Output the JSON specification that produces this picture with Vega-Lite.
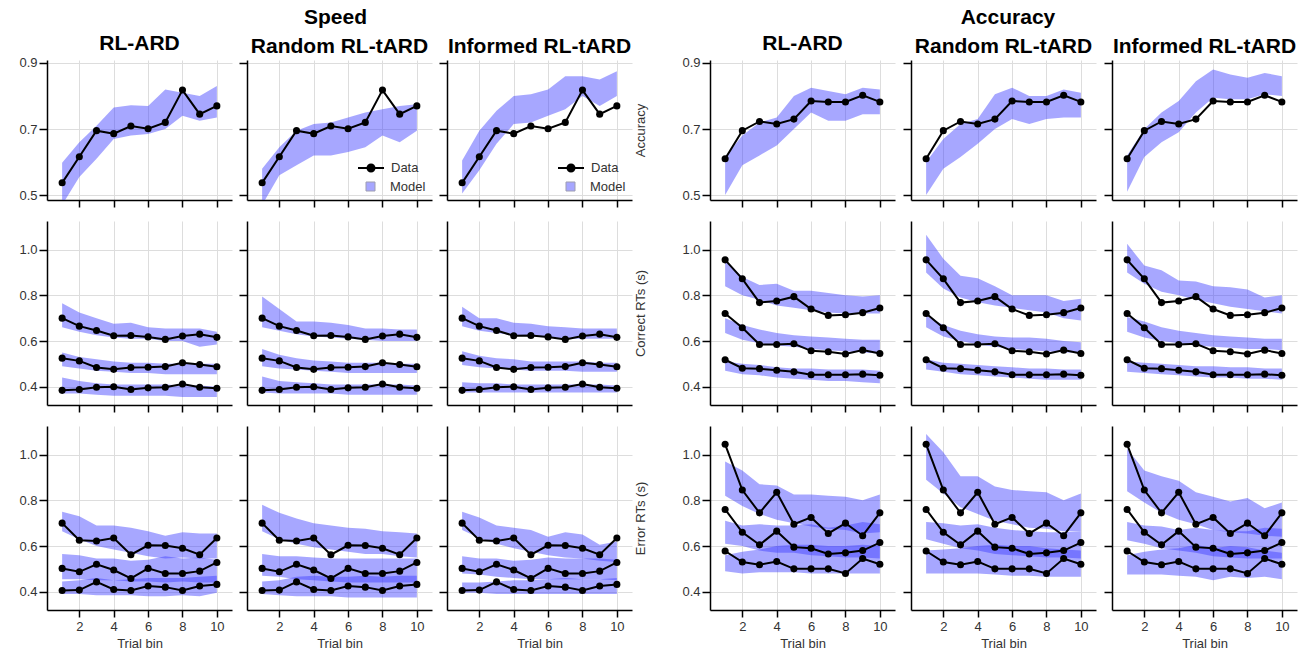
{
"$schema":"https://vega.github.io/schema/vega-lite/v6.json",
"padding":{"left":18,"top":6,"right":5,"bottom":2},
"config":{"font":"Liberation Sans","view":{"stroke":null},
"axis":{"domainColor":"black","domainWidth":1.5,"tickColor":"black","tickWidth":1.5,"tickSize":8,"gridColor":"#dddddd","gridWidth":1,"labelFontSize":13,"labelColor":"#333333","labelOverlap":false,"titleFontSize":13,"titleFontWeight":"normal","titleColor":"#333333","labelPadding":2},
"legend":{"layout":{"bottom-right":{"direction":"vertical","margin":-3}}},
"title":{"fontSize":21,"fontWeight":"bold","color":"black","offset":3}},
"datasets":{
"obs":[
{"c":"S","v":"acc","q":1,"b":1,"y":0.537},{"c":"S","v":"acc","q":1,"b":2,"y":0.616},{"c":"S","v":"acc","q":1,"b":3,"y":0.695},{"c":"S","v":"acc","q":1,"b":4,"y":0.686},{"c":"S","v":"acc","q":1,"b":5,"y":0.709},{"c":"S","v":"acc","q":1,"b":6,"y":0.701},{"c":"S","v":"acc","q":1,"b":7,"y":0.720},{"c":"S","v":"acc","q":1,"b":8,"y":0.818},{"c":"S","v":"acc","q":1,"b":9,"y":0.745},{"c":"S","v":"acc","q":1,"b":10,"y":0.770},
{"c":"S","v":"crt","q":1,"b":1,"y":0.384},{"c":"S","v":"crt","q":1,"b":2,"y":0.388},{"c":"S","v":"crt","q":1,"b":3,"y":0.398},{"c":"S","v":"crt","q":1,"b":4,"y":0.400},{"c":"S","v":"crt","q":1,"b":5,"y":0.388},{"c":"S","v":"crt","q":1,"b":6,"y":0.395},{"c":"S","v":"crt","q":1,"b":7,"y":0.398},{"c":"S","v":"crt","q":1,"b":8,"y":0.412},{"c":"S","v":"crt","q":1,"b":9,"y":0.398},{"c":"S","v":"crt","q":1,"b":10,"y":0.393},
{"c":"S","v":"crt","q":2,"b":1,"y":0.525},{"c":"S","v":"crt","q":2,"b":2,"y":0.513},{"c":"S","v":"crt","q":2,"b":3,"y":0.484},{"c":"S","v":"crt","q":2,"b":4,"y":0.476},{"c":"S","v":"crt","q":2,"b":5,"y":0.484},{"c":"S","v":"crt","q":2,"b":6,"y":0.485},{"c":"S","v":"crt","q":2,"b":7,"y":0.488},{"c":"S","v":"crt","q":2,"b":8,"y":0.505},{"c":"S","v":"crt","q":2,"b":9,"y":0.497},{"c":"S","v":"crt","q":2,"b":10,"y":0.487},
{"c":"S","v":"crt","q":3,"b":1,"y":0.700},{"c":"S","v":"crt","q":3,"b":2,"y":0.665},{"c":"S","v":"crt","q":3,"b":3,"y":0.646},{"c":"S","v":"crt","q":3,"b":4,"y":0.623},{"c":"S","v":"crt","q":3,"b":5,"y":0.624},{"c":"S","v":"crt","q":3,"b":6,"y":0.618},{"c":"S","v":"crt","q":3,"b":7,"y":0.607},{"c":"S","v":"crt","q":3,"b":8,"y":0.622},{"c":"S","v":"crt","q":3,"b":9,"y":0.630},{"c":"S","v":"crt","q":3,"b":10,"y":0.616},
{"c":"S","v":"ert","q":1,"b":1,"y":0.405},{"c":"S","v":"ert","q":1,"b":2,"y":0.407},{"c":"S","v":"ert","q":1,"b":3,"y":0.443},{"c":"S","v":"ert","q":1,"b":4,"y":0.410},{"c":"S","v":"ert","q":1,"b":5,"y":0.405},{"c":"S","v":"ert","q":1,"b":6,"y":0.425},{"c":"S","v":"ert","q":1,"b":7,"y":0.420},{"c":"S","v":"ert","q":1,"b":8,"y":0.405},{"c":"S","v":"ert","q":1,"b":9,"y":0.425},{"c":"S","v":"ert","q":1,"b":10,"y":0.432},
{"c":"S","v":"ert","q":2,"b":1,"y":0.502},{"c":"S","v":"ert","q":2,"b":2,"y":0.487},{"c":"S","v":"ert","q":2,"b":3,"y":0.520},{"c":"S","v":"ert","q":2,"b":4,"y":0.495},{"c":"S","v":"ert","q":2,"b":5,"y":0.458},{"c":"S","v":"ert","q":2,"b":6,"y":0.502},{"c":"S","v":"ert","q":2,"b":7,"y":0.480},{"c":"S","v":"ert","q":2,"b":8,"y":0.480},{"c":"S","v":"ert","q":2,"b":9,"y":0.490},{"c":"S","v":"ert","q":2,"b":10,"y":0.528},
{"c":"S","v":"ert","q":3,"b":1,"y":0.700},{"c":"S","v":"ert","q":3,"b":2,"y":0.625},{"c":"S","v":"ert","q":3,"b":3,"y":0.622},{"c":"S","v":"ert","q":3,"b":4,"y":0.635},{"c":"S","v":"ert","q":3,"b":5,"y":0.562},{"c":"S","v":"ert","q":3,"b":6,"y":0.603},{"c":"S","v":"ert","q":3,"b":7,"y":0.602},{"c":"S","v":"ert","q":3,"b":8,"y":0.590},{"c":"S","v":"ert","q":3,"b":9,"y":0.562},{"c":"S","v":"ert","q":3,"b":10,"y":0.635},
{"c":"A","v":"acc","q":1,"b":1,"y":0.610},{"c":"A","v":"acc","q":1,"b":2,"y":0.695},{"c":"A","v":"acc","q":1,"b":3,"y":0.723},{"c":"A","v":"acc","q":1,"b":4,"y":0.715},{"c":"A","v":"acc","q":1,"b":5,"y":0.730},{"c":"A","v":"acc","q":1,"b":6,"y":0.785},{"c":"A","v":"acc","q":1,"b":7,"y":0.782},{"c":"A","v":"acc","q":1,"b":8,"y":0.782},{"c":"A","v":"acc","q":1,"b":9,"y":0.802},{"c":"A","v":"acc","q":1,"b":10,"y":0.782},
{"c":"A","v":"crt","q":1,"b":1,"y":0.518},{"c":"A","v":"crt","q":1,"b":2,"y":0.481},{"c":"A","v":"crt","q":1,"b":3,"y":0.479},{"c":"A","v":"crt","q":1,"b":4,"y":0.472},{"c":"A","v":"crt","q":1,"b":5,"y":0.465},{"c":"A","v":"crt","q":1,"b":6,"y":0.452},{"c":"A","v":"crt","q":1,"b":7,"y":0.452},{"c":"A","v":"crt","q":1,"b":8,"y":0.452},{"c":"A","v":"crt","q":1,"b":9,"y":0.455},{"c":"A","v":"crt","q":1,"b":10,"y":0.450},
{"c":"A","v":"crt","q":2,"b":1,"y":0.720},{"c":"A","v":"crt","q":2,"b":2,"y":0.658},{"c":"A","v":"crt","q":2,"b":3,"y":0.585},{"c":"A","v":"crt","q":2,"b":4,"y":0.585},{"c":"A","v":"crt","q":2,"b":5,"y":0.588},{"c":"A","v":"crt","q":2,"b":6,"y":0.557},{"c":"A","v":"crt","q":2,"b":7,"y":0.553},{"c":"A","v":"crt","q":2,"b":8,"y":0.543},{"c":"A","v":"crt","q":2,"b":9,"y":0.560},{"c":"A","v":"crt","q":2,"b":10,"y":0.545},
{"c":"A","v":"crt","q":3,"b":1,"y":0.955},{"c":"A","v":"crt","q":3,"b":2,"y":0.872},{"c":"A","v":"crt","q":3,"b":3,"y":0.768},{"c":"A","v":"crt","q":3,"b":4,"y":0.775},{"c":"A","v":"crt","q":3,"b":5,"y":0.794},{"c":"A","v":"crt","q":3,"b":6,"y":0.740},{"c":"A","v":"crt","q":3,"b":7,"y":0.712},{"c":"A","v":"crt","q":3,"b":8,"y":0.715},{"c":"A","v":"crt","q":3,"b":9,"y":0.724},{"c":"A","v":"crt","q":3,"b":10,"y":0.744},
{"c":"A","v":"ert","q":1,"b":1,"y":0.578},{"c":"A","v":"ert","q":1,"b":2,"y":0.530},{"c":"A","v":"ert","q":1,"b":3,"y":0.518},{"c":"A","v":"ert","q":1,"b":4,"y":0.532},{"c":"A","v":"ert","q":1,"b":5,"y":0.500},{"c":"A","v":"ert","q":1,"b":6,"y":0.500},{"c":"A","v":"ert","q":1,"b":7,"y":0.500},{"c":"A","v":"ert","q":1,"b":8,"y":0.480},{"c":"A","v":"ert","q":1,"b":9,"y":0.545},{"c":"A","v":"ert","q":1,"b":10,"y":0.520},
{"c":"A","v":"ert","q":2,"b":1,"y":0.760},{"c":"A","v":"ert","q":2,"b":2,"y":0.660},{"c":"A","v":"ert","q":2,"b":3,"y":0.605},{"c":"A","v":"ert","q":2,"b":4,"y":0.665},{"c":"A","v":"ert","q":2,"b":5,"y":0.595},{"c":"A","v":"ert","q":2,"b":6,"y":0.590},{"c":"A","v":"ert","q":2,"b":7,"y":0.565},{"c":"A","v":"ert","q":2,"b":8,"y":0.570},{"c":"A","v":"ert","q":2,"b":9,"y":0.580},{"c":"A","v":"ert","q":2,"b":10,"y":0.615},
{"c":"A","v":"ert","q":3,"b":1,"y":1.045},{"c":"A","v":"ert","q":3,"b":2,"y":0.845},{"c":"A","v":"ert","q":3,"b":3,"y":0.745},{"c":"A","v":"ert","q":3,"b":4,"y":0.835},{"c":"A","v":"ert","q":3,"b":5,"y":0.695},{"c":"A","v":"ert","q":3,"b":6,"y":0.725},{"c":"A","v":"ert","q":3,"b":7,"y":0.655},{"c":"A","v":"ert","q":3,"b":8,"y":0.700},{"c":"A","v":"ert","q":3,"b":9,"y":0.645},{"c":"A","v":"ert","q":3,"b":10,"y":0.745}
],
"mod":[
{"c":"S","m":"A","v":"acc","q":1,"b":1,"l":0.47,"h":0.598},{"c":"S","m":"A","v":"acc","q":1,"b":2,"l":0.555,"h":0.66},{"c":"S","m":"A","v":"acc","q":1,"b":3,"l":0.61,"h":0.71},{"c":"S","m":"A","v":"acc","q":1,"b":4,"l":0.67,"h":0.765},{"c":"S","m":"A","v":"acc","q":1,"b":5,"l":0.68,"h":0.772},{"c":"S","m":"A","v":"acc","q":1,"b":6,"l":0.685,"h":0.77},{"c":"S","m":"A","v":"acc","q":1,"b":7,"l":0.70,"h":0.82},{"c":"S","m":"A","v":"acc","q":1,"b":8,"l":0.74,"h":0.81},{"c":"S","m":"A","v":"acc","q":1,"b":9,"l":0.725,"h":0.80},{"c":"S","m":"A","v":"acc","q":1,"b":10,"l":0.735,"h":0.83},
{"c":"S","m":"R","v":"acc","q":1,"b":1,"l":0.47,"h":0.58},{"c":"S","m":"R","v":"acc","q":1,"b":2,"l":0.56,"h":0.645},{"c":"S","m":"R","v":"acc","q":1,"b":3,"l":0.59,"h":0.695},{"c":"S","m":"R","v":"acc","q":1,"b":4,"l":0.62,"h":0.715},{"c":"S","m":"R","v":"acc","q":1,"b":5,"l":0.62,"h":0.72},{"c":"S","m":"R","v":"acc","q":1,"b":6,"l":0.63,"h":0.735},{"c":"S","m":"R","v":"acc","q":1,"b":7,"l":0.645,"h":0.75},{"c":"S","m":"R","v":"acc","q":1,"b":8,"l":0.68,"h":0.76},{"c":"S","m":"R","v":"acc","q":1,"b":9,"l":0.66,"h":0.77},{"c":"S","m":"R","v":"acc","q":1,"b":10,"l":0.695,"h":0.775},
{"c":"S","m":"I","v":"acc","q":1,"b":1,"l":0.505,"h":0.605},{"c":"S","m":"I","v":"acc","q":1,"b":2,"l":0.575,"h":0.695},{"c":"S","m":"I","v":"acc","q":1,"b":3,"l":0.655,"h":0.755},{"c":"S","m":"I","v":"acc","q":1,"b":4,"l":0.715,"h":0.80},{"c":"S","m":"I","v":"acc","q":1,"b":5,"l":0.72,"h":0.805},{"c":"S","m":"I","v":"acc","q":1,"b":6,"l":0.74,"h":0.82},{"c":"S","m":"I","v":"acc","q":1,"b":7,"l":0.76,"h":0.86},{"c":"S","m":"I","v":"acc","q":1,"b":8,"l":0.80,"h":0.86},{"c":"S","m":"I","v":"acc","q":1,"b":9,"l":0.77,"h":0.85},{"c":"S","m":"I","v":"acc","q":1,"b":10,"l":0.80,"h":0.875},
{"c":"S","m":"A","v":"crt","q":3,"b":1,"l":0.66,"h":0.765},{"c":"S","m":"A","v":"crt","q":3,"b":2,"l":0.64,"h":0.725},{"c":"S","m":"A","v":"crt","q":3,"b":3,"l":0.625,"h":0.70},{"c":"S","m":"A","v":"crt","q":3,"b":4,"l":0.615,"h":0.675},{"c":"S","m":"A","v":"crt","q":3,"b":5,"l":0.61,"h":0.68},{"c":"S","m":"A","v":"crt","q":3,"b":6,"l":0.61,"h":0.66},{"c":"S","m":"A","v":"crt","q":3,"b":7,"l":0.60,"h":0.655},{"c":"S","m":"A","v":"crt","q":3,"b":8,"l":0.60,"h":0.655},{"c":"S","m":"A","v":"crt","q":3,"b":9,"l":0.575,"h":0.655},{"c":"S","m":"A","v":"crt","q":3,"b":10,"l":0.585,"h":0.64},
{"c":"S","m":"A","v":"crt","q":2,"b":1,"l":0.49,"h":0.55},{"c":"S","m":"A","v":"crt","q":2,"b":2,"l":0.48,"h":0.53},{"c":"S","m":"A","v":"crt","q":2,"b":3,"l":0.47,"h":0.52},{"c":"S","m":"A","v":"crt","q":2,"b":4,"l":0.465,"h":0.51},{"c":"S","m":"A","v":"crt","q":2,"b":5,"l":0.46,"h":0.505},{"c":"S","m":"A","v":"crt","q":2,"b":6,"l":0.46,"h":0.505},{"c":"S","m":"A","v":"crt","q":2,"b":7,"l":0.455,"h":0.50},{"c":"S","m":"A","v":"crt","q":2,"b":8,"l":0.455,"h":0.50},{"c":"S","m":"A","v":"crt","q":2,"b":9,"l":0.455,"h":0.50},{"c":"S","m":"A","v":"crt","q":2,"b":10,"l":0.455,"h":0.50},
{"c":"S","m":"A","v":"crt","q":1,"b":1,"l":0.37,"h":0.44},{"c":"S","m":"A","v":"crt","q":1,"b":2,"l":0.37,"h":0.425},{"c":"S","m":"A","v":"crt","q":1,"b":3,"l":0.365,"h":0.415},{"c":"S","m":"A","v":"crt","q":1,"b":4,"l":0.36,"h":0.41},{"c":"S","m":"A","v":"crt","q":1,"b":5,"l":0.36,"h":0.41},{"c":"S","m":"A","v":"crt","q":1,"b":6,"l":0.36,"h":0.41},{"c":"S","m":"A","v":"crt","q":1,"b":7,"l":0.36,"h":0.41},{"c":"S","m":"A","v":"crt","q":1,"b":8,"l":0.355,"h":0.405},{"c":"S","m":"A","v":"crt","q":1,"b":9,"l":0.355,"h":0.405},{"c":"S","m":"A","v":"crt","q":1,"b":10,"l":0.355,"h":0.40},
{"c":"S","m":"R","v":"crt","q":3,"b":1,"l":0.66,"h":0.795},{"c":"S","m":"R","v":"crt","q":3,"b":2,"l":0.645,"h":0.74},{"c":"S","m":"R","v":"crt","q":3,"b":3,"l":0.63,"h":0.685},{"c":"S","m":"R","v":"crt","q":3,"b":4,"l":0.62,"h":0.685},{"c":"S","m":"R","v":"crt","q":3,"b":5,"l":0.615,"h":0.68},{"c":"S","m":"R","v":"crt","q":3,"b":6,"l":0.61,"h":0.67},{"c":"S","m":"R","v":"crt","q":3,"b":7,"l":0.605,"h":0.655},{"c":"S","m":"R","v":"crt","q":3,"b":8,"l":0.60,"h":0.655},{"c":"S","m":"R","v":"crt","q":3,"b":9,"l":0.60,"h":0.65},{"c":"S","m":"R","v":"crt","q":3,"b":10,"l":0.60,"h":0.65},
{"c":"S","m":"R","v":"crt","q":2,"b":1,"l":0.49,"h":0.565},{"c":"S","m":"R","v":"crt","q":2,"b":2,"l":0.48,"h":0.54},{"c":"S","m":"R","v":"crt","q":2,"b":3,"l":0.475,"h":0.525},{"c":"S","m":"R","v":"crt","q":2,"b":4,"l":0.47,"h":0.515},{"c":"S","m":"R","v":"crt","q":2,"b":5,"l":0.465,"h":0.51},{"c":"S","m":"R","v":"crt","q":2,"b":6,"l":0.46,"h":0.505},{"c":"S","m":"R","v":"crt","q":2,"b":7,"l":0.46,"h":0.505},{"c":"S","m":"R","v":"crt","q":2,"b":8,"l":0.46,"h":0.505},{"c":"S","m":"R","v":"crt","q":2,"b":9,"l":0.46,"h":0.50},{"c":"S","m":"R","v":"crt","q":2,"b":10,"l":0.46,"h":0.50},
{"c":"S","m":"R","v":"crt","q":1,"b":1,"l":0.375,"h":0.445},{"c":"S","m":"R","v":"crt","q":1,"b":2,"l":0.37,"h":0.425},{"c":"S","m":"R","v":"crt","q":1,"b":3,"l":0.37,"h":0.42},{"c":"S","m":"R","v":"crt","q":1,"b":4,"l":0.37,"h":0.415},{"c":"S","m":"R","v":"crt","q":1,"b":5,"l":0.37,"h":0.41},{"c":"S","m":"R","v":"crt","q":1,"b":6,"l":0.365,"h":0.41},{"c":"S","m":"R","v":"crt","q":1,"b":7,"l":0.365,"h":0.41},{"c":"S","m":"R","v":"crt","q":1,"b":8,"l":0.365,"h":0.41},{"c":"S","m":"R","v":"crt","q":1,"b":9,"l":0.365,"h":0.41},{"c":"S","m":"R","v":"crt","q":1,"b":10,"l":0.365,"h":0.405},
{"c":"S","m":"I","v":"crt","q":3,"b":1,"l":0.665,"h":0.75},{"c":"S","m":"I","v":"crt","q":3,"b":2,"l":0.645,"h":0.70},{"c":"S","m":"I","v":"crt","q":3,"b":3,"l":0.635,"h":0.70},{"c":"S","m":"I","v":"crt","q":3,"b":4,"l":0.625,"h":0.68},{"c":"S","m":"I","v":"crt","q":3,"b":5,"l":0.62,"h":0.675},{"c":"S","m":"I","v":"crt","q":3,"b":6,"l":0.615,"h":0.665},{"c":"S","m":"I","v":"crt","q":3,"b":7,"l":0.61,"h":0.66},{"c":"S","m":"I","v":"crt","q":3,"b":8,"l":0.61,"h":0.655},{"c":"S","m":"I","v":"crt","q":3,"b":9,"l":0.61,"h":0.655},{"c":"S","m":"I","v":"crt","q":3,"b":10,"l":0.61,"h":0.655},
{"c":"S","m":"I","v":"crt","q":2,"b":1,"l":0.495,"h":0.555},{"c":"S","m":"I","v":"crt","q":2,"b":2,"l":0.485,"h":0.535},{"c":"S","m":"I","v":"crt","q":2,"b":3,"l":0.48,"h":0.525},{"c":"S","m":"I","v":"crt","q":2,"b":4,"l":0.475,"h":0.52},{"c":"S","m":"I","v":"crt","q":2,"b":5,"l":0.47,"h":0.51},{"c":"S","m":"I","v":"crt","q":2,"b":6,"l":0.47,"h":0.51},{"c":"S","m":"I","v":"crt","q":2,"b":7,"l":0.47,"h":0.51},{"c":"S","m":"I","v":"crt","q":2,"b":8,"l":0.465,"h":0.51},{"c":"S","m":"I","v":"crt","q":2,"b":9,"l":0.465,"h":0.505},{"c":"S","m":"I","v":"crt","q":2,"b":10,"l":0.465,"h":0.505},
{"c":"S","m":"I","v":"crt","q":1,"b":1,"l":0.375,"h":0.42},{"c":"S","m":"I","v":"crt","q":1,"b":2,"l":0.375,"h":0.415},{"c":"S","m":"I","v":"crt","q":1,"b":3,"l":0.375,"h":0.415},{"c":"S","m":"I","v":"crt","q":1,"b":4,"l":0.375,"h":0.41},{"c":"S","m":"I","v":"crt","q":1,"b":5,"l":0.375,"h":0.41},{"c":"S","m":"I","v":"crt","q":1,"b":6,"l":0.375,"h":0.41},{"c":"S","m":"I","v":"crt","q":1,"b":7,"l":0.375,"h":0.41},{"c":"S","m":"I","v":"crt","q":1,"b":8,"l":0.375,"h":0.41},{"c":"S","m":"I","v":"crt","q":1,"b":9,"l":0.375,"h":0.41},{"c":"S","m":"I","v":"crt","q":1,"b":10,"l":0.375,"h":0.405},
{"c":"S","m":"A","v":"ert","q":3,"b":1,"l":0.665,"h":0.75},{"c":"S","m":"A","v":"ert","q":3,"b":2,"l":0.63,"h":0.73},{"c":"S","m":"A","v":"ert","q":3,"b":3,"l":0.60,"h":0.69},{"c":"S","m":"A","v":"ert","q":3,"b":4,"l":0.585,"h":0.69},{"c":"S","m":"A","v":"ert","q":3,"b":5,"l":0.57,"h":0.68},{"c":"S","m":"A","v":"ert","q":3,"b":6,"l":0.555,"h":0.665},{"c":"S","m":"A","v":"ert","q":3,"b":7,"l":0.545,"h":0.645},{"c":"S","m":"A","v":"ert","q":3,"b":8,"l":0.55,"h":0.66},{"c":"S","m":"A","v":"ert","q":3,"b":9,"l":0.545,"h":0.655},{"c":"S","m":"A","v":"ert","q":3,"b":10,"l":0.545,"h":0.655},
{"c":"S","m":"A","v":"ert","q":2,"b":1,"l":0.455,"h":0.565},{"c":"S","m":"A","v":"ert","q":2,"b":2,"l":0.455,"h":0.56},{"c":"S","m":"A","v":"ert","q":2,"b":3,"l":0.45,"h":0.545},{"c":"S","m":"A","v":"ert","q":2,"b":4,"l":0.45,"h":0.545},{"c":"S","m":"A","v":"ert","q":2,"b":5,"l":0.445,"h":0.535},{"c":"S","m":"A","v":"ert","q":2,"b":6,"l":0.445,"h":0.54},{"c":"S","m":"A","v":"ert","q":2,"b":7,"l":0.44,"h":0.555},{"c":"S","m":"A","v":"ert","q":2,"b":8,"l":0.445,"h":0.545},{"c":"S","m":"A","v":"ert","q":2,"b":9,"l":0.44,"h":0.55},{"c":"S","m":"A","v":"ert","q":2,"b":10,"l":0.44,"h":0.54},
{"c":"S","m":"A","v":"ert","q":1,"b":1,"l":0.39,"h":0.445},{"c":"S","m":"A","v":"ert","q":1,"b":2,"l":0.39,"h":0.45},{"c":"S","m":"A","v":"ert","q":1,"b":3,"l":0.385,"h":0.46},{"c":"S","m":"A","v":"ert","q":1,"b":4,"l":0.385,"h":0.45},{"c":"S","m":"A","v":"ert","q":1,"b":5,"l":0.385,"h":0.455},{"c":"S","m":"A","v":"ert","q":1,"b":6,"l":0.38,"h":0.46},{"c":"S","m":"A","v":"ert","q":1,"b":7,"l":0.38,"h":0.46},{"c":"S","m":"A","v":"ert","q":1,"b":8,"l":0.385,"h":0.46},{"c":"S","m":"A","v":"ert","q":1,"b":9,"l":0.38,"h":0.465},{"c":"S","m":"A","v":"ert","q":1,"b":10,"l":0.395,"h":0.47},
{"c":"S","m":"R","v":"ert","q":3,"b":1,"l":0.665,"h":0.78},{"c":"S","m":"R","v":"ert","q":3,"b":2,"l":0.63,"h":0.745},{"c":"S","m":"R","v":"ert","q":3,"b":3,"l":0.61,"h":0.72},{"c":"S","m":"R","v":"ert","q":3,"b":4,"l":0.595,"h":0.70},{"c":"S","m":"R","v":"ert","q":3,"b":5,"l":0.585,"h":0.69},{"c":"S","m":"R","v":"ert","q":3,"b":6,"l":0.575,"h":0.68},{"c":"S","m":"R","v":"ert","q":3,"b":7,"l":0.565,"h":0.675},{"c":"S","m":"R","v":"ert","q":3,"b":8,"l":0.565,"h":0.665},{"c":"S","m":"R","v":"ert","q":3,"b":9,"l":0.555,"h":0.66},{"c":"S","m":"R","v":"ert","q":3,"b":10,"l":0.55,"h":0.655},
{"c":"S","m":"R","v":"ert","q":2,"b":1,"l":0.47,"h":0.565},{"c":"S","m":"R","v":"ert","q":2,"b":2,"l":0.465,"h":0.555},{"c":"S","m":"R","v":"ert","q":2,"b":3,"l":0.455,"h":0.555},{"c":"S","m":"R","v":"ert","q":2,"b":4,"l":0.45,"h":0.55},{"c":"S","m":"R","v":"ert","q":2,"b":5,"l":0.445,"h":0.545},{"c":"S","m":"R","v":"ert","q":2,"b":6,"l":0.44,"h":0.545},{"c":"S","m":"R","v":"ert","q":2,"b":7,"l":0.44,"h":0.545},{"c":"S","m":"R","v":"ert","q":2,"b":8,"l":0.44,"h":0.545},{"c":"S","m":"R","v":"ert","q":2,"b":9,"l":0.44,"h":0.545},{"c":"S","m":"R","v":"ert","q":2,"b":10,"l":0.44,"h":0.545},
{"c":"S","m":"R","v":"ert","q":1,"b":1,"l":0.39,"h":0.445},{"c":"S","m":"R","v":"ert","q":1,"b":2,"l":0.385,"h":0.45},{"c":"S","m":"R","v":"ert","q":1,"b":3,"l":0.38,"h":0.465},{"c":"S","m":"R","v":"ert","q":1,"b":4,"l":0.38,"h":0.47},{"c":"S","m":"R","v":"ert","q":1,"b":5,"l":0.38,"h":0.465},{"c":"S","m":"R","v":"ert","q":1,"b":6,"l":0.375,"h":0.465},{"c":"S","m":"R","v":"ert","q":1,"b":7,"l":0.375,"h":0.47},{"c":"S","m":"R","v":"ert","q":1,"b":8,"l":0.375,"h":0.465},{"c":"S","m":"R","v":"ert","q":1,"b":9,"l":0.375,"h":0.47},{"c":"S","m":"R","v":"ert","q":1,"b":10,"l":0.375,"h":0.47},
{"c":"S","m":"I","v":"ert","q":3,"b":1,"l":0.67,"h":0.75},{"c":"S","m":"I","v":"ert","q":3,"b":2,"l":0.635,"h":0.725},{"c":"S","m":"I","v":"ert","q":3,"b":3,"l":0.61,"h":0.69},{"c":"S","m":"I","v":"ert","q":3,"b":4,"l":0.59,"h":0.68},{"c":"S","m":"I","v":"ert","q":3,"b":5,"l":0.575,"h":0.67},{"c":"S","m":"I","v":"ert","q":3,"b":6,"l":0.56,"h":0.64},{"c":"S","m":"I","v":"ert","q":3,"b":7,"l":0.55,"h":0.66},{"c":"S","m":"I","v":"ert","q":3,"b":8,"l":0.545,"h":0.65},{"c":"S","m":"I","v":"ert","q":3,"b":9,"l":0.535,"h":0.605},{"c":"S","m":"I","v":"ert","q":3,"b":10,"l":0.53,"h":0.62},
{"c":"S","m":"I","v":"ert","q":2,"b":1,"l":0.48,"h":0.555},{"c":"S","m":"I","v":"ert","q":2,"b":2,"l":0.475,"h":0.545},{"c":"S","m":"I","v":"ert","q":2,"b":3,"l":0.465,"h":0.545},{"c":"S","m":"I","v":"ert","q":2,"b":4,"l":0.46,"h":0.535},{"c":"S","m":"I","v":"ert","q":2,"b":5,"l":0.455,"h":0.54},{"c":"S","m":"I","v":"ert","q":2,"b":6,"l":0.455,"h":0.55},{"c":"S","m":"I","v":"ert","q":2,"b":7,"l":0.455,"h":0.545},{"c":"S","m":"I","v":"ert","q":2,"b":8,"l":0.455,"h":0.545},{"c":"S","m":"I","v":"ert","q":2,"b":9,"l":0.455,"h":0.545},{"c":"S","m":"I","v":"ert","q":2,"b":10,"l":0.45,"h":0.54},
{"c":"S","m":"I","v":"ert","q":1,"b":1,"l":0.395,"h":0.44},{"c":"S","m":"I","v":"ert","q":1,"b":2,"l":0.395,"h":0.44},{"c":"S","m":"I","v":"ert","q":1,"b":3,"l":0.39,"h":0.445},{"c":"S","m":"I","v":"ert","q":1,"b":4,"l":0.39,"h":0.45},{"c":"S","m":"I","v":"ert","q":1,"b":5,"l":0.39,"h":0.45},{"c":"S","m":"I","v":"ert","q":1,"b":6,"l":0.39,"h":0.455},{"c":"S","m":"I","v":"ert","q":1,"b":7,"l":0.39,"h":0.46},{"c":"S","m":"I","v":"ert","q":1,"b":8,"l":0.39,"h":0.455},{"c":"S","m":"I","v":"ert","q":1,"b":9,"l":0.39,"h":0.455},{"c":"S","m":"I","v":"ert","q":1,"b":10,"l":0.39,"h":0.46},
{"c":"A","m":"A","v":"acc","q":1,"b":1,"l":0.50,"h":0.615},{"c":"A","m":"A","v":"acc","q":1,"b":2,"l":0.59,"h":0.68},{"c":"A","m":"A","v":"acc","q":1,"b":3,"l":0.62,"h":0.72},{"c":"A","m":"A","v":"acc","q":1,"b":4,"l":0.65,"h":0.735},{"c":"A","m":"A","v":"acc","q":1,"b":5,"l":0.70,"h":0.80},{"c":"A","m":"A","v":"acc","q":1,"b":6,"l":0.75,"h":0.825},{"c":"A","m":"A","v":"acc","q":1,"b":7,"l":0.725,"h":0.815},{"c":"A","m":"A","v":"acc","q":1,"b":8,"l":0.725,"h":0.805},{"c":"A","m":"A","v":"acc","q":1,"b":9,"l":0.745,"h":0.825},{"c":"A","m":"A","v":"acc","q":1,"b":10,"l":0.745,"h":0.82},
{"c":"A","m":"R","v":"acc","q":1,"b":1,"l":0.50,"h":0.60},{"c":"A","m":"R","v":"acc","q":1,"b":2,"l":0.58,"h":0.67},{"c":"A","m":"R","v":"acc","q":1,"b":3,"l":0.615,"h":0.715},{"c":"A","m":"R","v":"acc","q":1,"b":4,"l":0.655,"h":0.73},{"c":"A","m":"R","v":"acc","q":1,"b":5,"l":0.70,"h":0.805},{"c":"A","m":"R","v":"acc","q":1,"b":6,"l":0.73,"h":0.825},{"c":"A","m":"R","v":"acc","q":1,"b":7,"l":0.715,"h":0.80},{"c":"A","m":"R","v":"acc","q":1,"b":8,"l":0.73,"h":0.80},{"c":"A","m":"R","v":"acc","q":1,"b":9,"l":0.735,"h":0.82},{"c":"A","m":"R","v":"acc","q":1,"b":10,"l":0.735,"h":0.81},
{"c":"A","m":"I","v":"acc","q":1,"b":1,"l":0.51,"h":0.62},{"c":"A","m":"I","v":"acc","q":1,"b":2,"l":0.615,"h":0.70},{"c":"A","m":"I","v":"acc","q":1,"b":3,"l":0.66,"h":0.75},{"c":"A","m":"I","v":"acc","q":1,"b":4,"l":0.69,"h":0.785},{"c":"A","m":"I","v":"acc","q":1,"b":5,"l":0.75,"h":0.845},{"c":"A","m":"I","v":"acc","q":1,"b":6,"l":0.795,"h":0.88},{"c":"A","m":"I","v":"acc","q":1,"b":7,"l":0.79,"h":0.865},{"c":"A","m":"I","v":"acc","q":1,"b":8,"l":0.79,"h":0.855},{"c":"A","m":"I","v":"acc","q":1,"b":9,"l":0.805,"h":0.87},{"c":"A","m":"I","v":"acc","q":1,"b":10,"l":0.80,"h":0.86},
{"c":"A","m":"A","v":"crt","q":3,"b":1,"l":0.84,"h":0.955},{"c":"A","m":"A","v":"crt","q":3,"b":2,"l":0.80,"h":0.88},{"c":"A","m":"A","v":"crt","q":3,"b":3,"l":0.78,"h":0.845},{"c":"A","m":"A","v":"crt","q":3,"b":4,"l":0.755,"h":0.85},{"c":"A","m":"A","v":"crt","q":3,"b":5,"l":0.745,"h":0.82},{"c":"A","m":"A","v":"crt","q":3,"b":6,"l":0.735,"h":0.82},{"c":"A","m":"A","v":"crt","q":3,"b":7,"l":0.725,"h":0.81},{"c":"A","m":"A","v":"crt","q":3,"b":8,"l":0.72,"h":0.80},{"c":"A","m":"A","v":"crt","q":3,"b":9,"l":0.72,"h":0.795},{"c":"A","m":"A","v":"crt","q":3,"b":10,"l":0.72,"h":0.80},
{"c":"A","m":"A","v":"crt","q":2,"b":1,"l":0.635,"h":0.70},{"c":"A","m":"A","v":"crt","q":2,"b":2,"l":0.605,"h":0.67},{"c":"A","m":"A","v":"crt","q":2,"b":3,"l":0.59,"h":0.65},{"c":"A","m":"A","v":"crt","q":2,"b":4,"l":0.58,"h":0.635},{"c":"A","m":"A","v":"crt","q":2,"b":5,"l":0.575,"h":0.625},{"c":"A","m":"A","v":"crt","q":2,"b":6,"l":0.565,"h":0.62},{"c":"A","m":"A","v":"crt","q":2,"b":7,"l":0.56,"h":0.615},{"c":"A","m":"A","v":"crt","q":2,"b":8,"l":0.555,"h":0.61},{"c":"A","m":"A","v":"crt","q":2,"b":9,"l":0.55,"h":0.605},{"c":"A","m":"A","v":"crt","q":2,"b":10,"l":0.545,"h":0.605},
{"c":"A","m":"A","v":"crt","q":1,"b":1,"l":0.47,"h":0.51},{"c":"A","m":"A","v":"crt","q":1,"b":2,"l":0.455,"h":0.50},{"c":"A","m":"A","v":"crt","q":1,"b":3,"l":0.45,"h":0.495},{"c":"A","m":"A","v":"crt","q":1,"b":4,"l":0.44,"h":0.485},{"c":"A","m":"A","v":"crt","q":1,"b":5,"l":0.435,"h":0.48},{"c":"A","m":"A","v":"crt","q":1,"b":6,"l":0.43,"h":0.48},{"c":"A","m":"A","v":"crt","q":1,"b":7,"l":0.425,"h":0.475},{"c":"A","m":"A","v":"crt","q":1,"b":8,"l":0.425,"h":0.475},{"c":"A","m":"A","v":"crt","q":1,"b":9,"l":0.42,"h":0.475},{"c":"A","m":"A","v":"crt","q":1,"b":10,"l":0.415,"h":0.47},
{"c":"A","m":"R","v":"crt","q":3,"b":1,"l":0.90,"h":1.065},{"c":"A","m":"R","v":"crt","q":3,"b":2,"l":0.83,"h":0.96},{"c":"A","m":"R","v":"crt","q":3,"b":3,"l":0.79,"h":0.885},{"c":"A","m":"R","v":"crt","q":3,"b":4,"l":0.77,"h":0.875},{"c":"A","m":"R","v":"crt","q":3,"b":5,"l":0.755,"h":0.84},{"c":"A","m":"R","v":"crt","q":3,"b":6,"l":0.745,"h":0.80},{"c":"A","m":"R","v":"crt","q":3,"b":7,"l":0.735,"h":0.80},{"c":"A","m":"R","v":"crt","q":3,"b":8,"l":0.725,"h":0.80},{"c":"A","m":"R","v":"crt","q":3,"b":9,"l":0.70,"h":0.775},{"c":"A","m":"R","v":"crt","q":3,"b":10,"l":0.69,"h":0.785},
{"c":"A","m":"R","v":"crt","q":2,"b":1,"l":0.66,"h":0.71},{"c":"A","m":"R","v":"crt","q":2,"b":2,"l":0.62,"h":0.67},{"c":"A","m":"R","v":"crt","q":2,"b":3,"l":0.60,"h":0.645},{"c":"A","m":"R","v":"crt","q":2,"b":4,"l":0.585,"h":0.63},{"c":"A","m":"R","v":"crt","q":2,"b":5,"l":0.575,"h":0.62},{"c":"A","m":"R","v":"crt","q":2,"b":6,"l":0.565,"h":0.615},{"c":"A","m":"R","v":"crt","q":2,"b":7,"l":0.56,"h":0.615},{"c":"A","m":"R","v":"crt","q":2,"b":8,"l":0.555,"h":0.61},{"c":"A","m":"R","v":"crt","q":2,"b":9,"l":0.55,"h":0.60},{"c":"A","m":"R","v":"crt","q":2,"b":10,"l":0.55,"h":0.595},
{"c":"A","m":"R","v":"crt","q":1,"b":1,"l":0.475,"h":0.52},{"c":"A","m":"R","v":"crt","q":1,"b":2,"l":0.465,"h":0.505},{"c":"A","m":"R","v":"crt","q":1,"b":3,"l":0.455,"h":0.50},{"c":"A","m":"R","v":"crt","q":1,"b":4,"l":0.45,"h":0.495},{"c":"A","m":"R","v":"crt","q":1,"b":5,"l":0.445,"h":0.49},{"c":"A","m":"R","v":"crt","q":1,"b":6,"l":0.44,"h":0.485},{"c":"A","m":"R","v":"crt","q":1,"b":7,"l":0.435,"h":0.48},{"c":"A","m":"R","v":"crt","q":1,"b":8,"l":0.43,"h":0.48},{"c":"A","m":"R","v":"crt","q":1,"b":9,"l":0.43,"h":0.475},{"c":"A","m":"R","v":"crt","q":1,"b":10,"l":0.43,"h":0.475},
{"c":"A","m":"I","v":"crt","q":3,"b":1,"l":0.90,"h":1.025},{"c":"A","m":"I","v":"crt","q":3,"b":2,"l":0.85,"h":0.93},{"c":"A","m":"I","v":"crt","q":3,"b":3,"l":0.815,"h":0.91},{"c":"A","m":"I","v":"crt","q":3,"b":4,"l":0.80,"h":0.865},{"c":"A","m":"I","v":"crt","q":3,"b":5,"l":0.78,"h":0.86},{"c":"A","m":"I","v":"crt","q":3,"b":6,"l":0.765,"h":0.84},{"c":"A","m":"I","v":"crt","q":3,"b":7,"l":0.75,"h":0.835},{"c":"A","m":"I","v":"crt","q":3,"b":8,"l":0.74,"h":0.825},{"c":"A","m":"I","v":"crt","q":3,"b":9,"l":0.73,"h":0.79},{"c":"A","m":"I","v":"crt","q":3,"b":10,"l":0.72,"h":0.80},
{"c":"A","m":"I","v":"crt","q":2,"b":1,"l":0.64,"h":0.705},{"c":"A","m":"I","v":"crt","q":2,"b":2,"l":0.615,"h":0.685},{"c":"A","m":"I","v":"crt","q":2,"b":3,"l":0.60,"h":0.66},{"c":"A","m":"I","v":"crt","q":2,"b":4,"l":0.59,"h":0.645},{"c":"A","m":"I","v":"crt","q":2,"b":5,"l":0.58,"h":0.635},{"c":"A","m":"I","v":"crt","q":2,"b":6,"l":0.575,"h":0.625},{"c":"A","m":"I","v":"crt","q":2,"b":7,"l":0.57,"h":0.62},{"c":"A","m":"I","v":"crt","q":2,"b":8,"l":0.565,"h":0.615},{"c":"A","m":"I","v":"crt","q":2,"b":9,"l":0.565,"h":0.61},{"c":"A","m":"I","v":"crt","q":2,"b":10,"l":0.56,"h":0.61},
{"c":"A","m":"I","v":"crt","q":1,"b":1,"l":0.465,"h":0.51},{"c":"A","m":"I","v":"crt","q":1,"b":2,"l":0.46,"h":0.505},{"c":"A","m":"I","v":"crt","q":1,"b":3,"l":0.455,"h":0.50},{"c":"A","m":"I","v":"crt","q":1,"b":4,"l":0.45,"h":0.495},{"c":"A","m":"I","v":"crt","q":1,"b":5,"l":0.445,"h":0.49},{"c":"A","m":"I","v":"crt","q":1,"b":6,"l":0.44,"h":0.49},{"c":"A","m":"I","v":"crt","q":1,"b":7,"l":0.44,"h":0.485},{"c":"A","m":"I","v":"crt","q":1,"b":8,"l":0.435,"h":0.485},{"c":"A","m":"I","v":"crt","q":1,"b":9,"l":0.435,"h":0.48},{"c":"A","m":"I","v":"crt","q":1,"b":10,"l":0.43,"h":0.48},
{"c":"A","m":"A","v":"ert","q":3,"b":1,"l":0.82,"h":0.97},{"c":"A","m":"A","v":"ert","q":3,"b":2,"l":0.775,"h":0.93},{"c":"A","m":"A","v":"ert","q":3,"b":3,"l":0.74,"h":0.87},{"c":"A","m":"A","v":"ert","q":3,"b":4,"l":0.715,"h":0.865},{"c":"A","m":"A","v":"ert","q":3,"b":5,"l":0.70,"h":0.825},{"c":"A","m":"A","v":"ert","q":3,"b":6,"l":0.685,"h":0.825},{"c":"A","m":"A","v":"ert","q":3,"b":7,"l":0.675,"h":0.82},{"c":"A","m":"A","v":"ert","q":3,"b":8,"l":0.67,"h":0.815},{"c":"A","m":"A","v":"ert","q":3,"b":9,"l":0.655,"h":0.80},{"c":"A","m":"A","v":"ert","q":3,"b":10,"l":0.66,"h":0.825},
{"c":"A","m":"A","v":"ert","q":2,"b":1,"l":0.61,"h":0.71},{"c":"A","m":"A","v":"ert","q":2,"b":2,"l":0.60,"h":0.69},{"c":"A","m":"A","v":"ert","q":2,"b":3,"l":0.58,"h":0.695},{"c":"A","m":"A","v":"ert","q":2,"b":4,"l":0.57,"h":0.69},{"c":"A","m":"A","v":"ert","q":2,"b":5,"l":0.57,"h":0.69},{"c":"A","m":"A","v":"ert","q":2,"b":6,"l":0.56,"h":0.695},{"c":"A","m":"A","v":"ert","q":2,"b":7,"l":0.555,"h":0.68},{"c":"A","m":"A","v":"ert","q":2,"b":8,"l":0.55,"h":0.69},{"c":"A","m":"A","v":"ert","q":2,"b":9,"l":0.55,"h":0.705},{"c":"A","m":"A","v":"ert","q":2,"b":10,"l":0.545,"h":0.695},
{"c":"A","m":"A","v":"ert","q":1,"b":1,"l":0.49,"h":0.56},{"c":"A","m":"A","v":"ert","q":1,"b":2,"l":0.48,"h":0.575},{"c":"A","m":"A","v":"ert","q":1,"b":3,"l":0.485,"h":0.585},{"c":"A","m":"A","v":"ert","q":1,"b":4,"l":0.485,"h":0.60},{"c":"A","m":"A","v":"ert","q":1,"b":5,"l":0.485,"h":0.605},{"c":"A","m":"A","v":"ert","q":1,"b":6,"l":0.48,"h":0.605},{"c":"A","m":"A","v":"ert","q":1,"b":7,"l":0.48,"h":0.60},{"c":"A","m":"A","v":"ert","q":1,"b":8,"l":0.48,"h":0.60},{"c":"A","m":"A","v":"ert","q":1,"b":9,"l":0.48,"h":0.605},{"c":"A","m":"A","v":"ert","q":1,"b":10,"l":0.48,"h":0.60},
{"c":"A","m":"R","v":"ert","q":3,"b":1,"l":0.89,"h":1.09},{"c":"A","m":"R","v":"ert","q":3,"b":2,"l":0.83,"h":1.01},{"c":"A","m":"R","v":"ert","q":3,"b":3,"l":0.77,"h":0.905},{"c":"A","m":"R","v":"ert","q":3,"b":4,"l":0.74,"h":0.905},{"c":"A","m":"R","v":"ert","q":3,"b":5,"l":0.71,"h":0.86},{"c":"A","m":"R","v":"ert","q":3,"b":6,"l":0.695,"h":0.845},{"c":"A","m":"R","v":"ert","q":3,"b":7,"l":0.68,"h":0.84},{"c":"A","m":"R","v":"ert","q":3,"b":8,"l":0.675,"h":0.835},{"c":"A","m":"R","v":"ert","q":3,"b":9,"l":0.665,"h":0.80},{"c":"A","m":"R","v":"ert","q":3,"b":10,"l":0.665,"h":0.83},
{"c":"A","m":"R","v":"ert","q":2,"b":1,"l":0.63,"h":0.705},{"c":"A","m":"R","v":"ert","q":2,"b":2,"l":0.61,"h":0.70},{"c":"A","m":"R","v":"ert","q":2,"b":3,"l":0.59,"h":0.69},{"c":"A","m":"R","v":"ert","q":2,"b":4,"l":0.58,"h":0.695},{"c":"A","m":"R","v":"ert","q":2,"b":5,"l":0.565,"h":0.68},{"c":"A","m":"R","v":"ert","q":2,"b":6,"l":0.56,"h":0.67},{"c":"A","m":"R","v":"ert","q":2,"b":7,"l":0.555,"h":0.665},{"c":"A","m":"R","v":"ert","q":2,"b":8,"l":0.55,"h":0.66},{"c":"A","m":"R","v":"ert","q":2,"b":9,"l":0.55,"h":0.66},{"c":"A","m":"R","v":"ert","q":2,"b":10,"l":0.545,"h":0.665},
{"c":"A","m":"R","v":"ert","q":1,"b":1,"l":0.48,"h":0.58},{"c":"A","m":"R","v":"ert","q":1,"b":2,"l":0.48,"h":0.585},{"c":"A","m":"R","v":"ert","q":1,"b":3,"l":0.48,"h":0.59},{"c":"A","m":"R","v":"ert","q":1,"b":4,"l":0.48,"h":0.60},{"c":"A","m":"R","v":"ert","q":1,"b":5,"l":0.475,"h":0.605},{"c":"A","m":"R","v":"ert","q":1,"b":6,"l":0.47,"h":0.60},{"c":"A","m":"R","v":"ert","q":1,"b":7,"l":0.47,"h":0.60},{"c":"A","m":"R","v":"ert","q":1,"b":8,"l":0.465,"h":0.59},{"c":"A","m":"R","v":"ert","q":1,"b":9,"l":0.465,"h":0.585},{"c":"A","m":"R","v":"ert","q":1,"b":10,"l":0.465,"h":0.58},
{"c":"A","m":"I","v":"ert","q":3,"b":1,"l":0.84,"h":1.025},{"c":"A","m":"I","v":"ert","q":3,"b":2,"l":0.79,"h":0.93},{"c":"A","m":"I","v":"ert","q":3,"b":3,"l":0.745,"h":0.905},{"c":"A","m":"I","v":"ert","q":3,"b":4,"l":0.715,"h":0.885},{"c":"A","m":"I","v":"ert","q":3,"b":5,"l":0.695,"h":0.835},{"c":"A","m":"I","v":"ert","q":3,"b":6,"l":0.67,"h":0.815},{"c":"A","m":"I","v":"ert","q":3,"b":7,"l":0.66,"h":0.795},{"c":"A","m":"I","v":"ert","q":3,"b":8,"l":0.655,"h":0.81},{"c":"A","m":"I","v":"ert","q":3,"b":9,"l":0.645,"h":0.765},{"c":"A","m":"I","v":"ert","q":3,"b":10,"l":0.64,"h":0.79},
{"c":"A","m":"I","v":"ert","q":2,"b":1,"l":0.625,"h":0.705},{"c":"A","m":"I","v":"ert","q":2,"b":2,"l":0.61,"h":0.69},{"c":"A","m":"I","v":"ert","q":2,"b":3,"l":0.59,"h":0.685},{"c":"A","m":"I","v":"ert","q":2,"b":4,"l":0.58,"h":0.67},{"c":"A","m":"I","v":"ert","q":2,"b":5,"l":0.57,"h":0.68},{"c":"A","m":"I","v":"ert","q":2,"b":6,"l":0.555,"h":0.67},{"c":"A","m":"I","v":"ert","q":2,"b":7,"l":0.55,"h":0.665},{"c":"A","m":"I","v":"ert","q":2,"b":8,"l":0.545,"h":0.665},{"c":"A","m":"I","v":"ert","q":2,"b":9,"l":0.545,"h":0.68},{"c":"A","m":"I","v":"ert","q":2,"b":10,"l":0.545,"h":0.675},
{"c":"A","m":"I","v":"ert","q":1,"b":1,"l":0.475,"h":0.56},{"c":"A","m":"I","v":"ert","q":1,"b":2,"l":0.475,"h":0.575},{"c":"A","m":"I","v":"ert","q":1,"b":3,"l":0.475,"h":0.585},{"c":"A","m":"I","v":"ert","q":1,"b":4,"l":0.47,"h":0.59},{"c":"A","m":"I","v":"ert","q":1,"b":5,"l":0.465,"h":0.605},{"c":"A","m":"I","v":"ert","q":1,"b":6,"l":0.45,"h":0.59},{"c":"A","m":"I","v":"ert","q":1,"b":7,"l":0.465,"h":0.60},{"c":"A","m":"I","v":"ert","q":1,"b":8,"l":0.46,"h":0.595},{"c":"A","m":"I","v":"ert","q":1,"b":9,"l":0.465,"h":0.58},{"c":"A","m":"I","v":"ert","q":1,"b":10,"l":0.455,"h":0.57}
]},
"spacing":2,
"hconcat":[
{"title":{"text":"Speed","offset":5,"anchor":"middle","frame":"bounds","dx":10},"spacing":13,"vconcat":[
{"spacing":15,"bounds":"flush","resolve":{"scale":{"color":"independent","fill":"independent"},"legend":{"color":"independent","fill":"independent"}},"hconcat":[
{"width":185,"height":140,"title":"RL-ARD","layer":[
{"data":{"name":"mod"},"transform":[{"filter":"datum.c=='S'&&datum.m=='A'&&datum.v=='acc'"}],"mark":{"type":"area","color":"#3b3bff","opacity":0.45,"clip":true},"encoding":{"x":{"field":"b","type":"quantitative","title":null,"scale":{"domain":[0.12,10.88],"nice":false,"zero":false},"axis":{"values":[2,4,6,8,10],"labels":false,"tickSize":7}},"y":{"field":"l","type":"quantitative","title":null,"scale":{"domain":[0.485,0.909],"nice":false,"zero":false},"axis":{"values":[0.5,0.6,0.7,0.8,0.9],"format":".1f"}},"y2":{"field":"h"},"detail":{"field":"q","type":"nominal"}}},
{"data":{"name":"obs"},"transform":[{"filter":"datum.c=='S'&&datum.v=='acc'"}],"mark":{"type":"line","color":"black","strokeWidth":2,"point":{"filled":true,"color":"black","size":50}},"encoding":{"x":{"field":"b","type":"quantitative","title":null},"y":{"field":"y","type":"quantitative","title":null},"detail":{"field":"q","type":"nominal"}}}]},
{"width":185,"height":140,"title":"Random RL-tARD","layer":[
{"data":{"name":"obs"},"transform":[{"filter":"false"}],"mark":{"type":"line","strokeWidth":2},"encoding":{"x":{"field":"b","type":"quantitative","title":null,"scale":{"domain":[0.12,10.88],"nice":false,"zero":false},"axis":{"values":[2,4,6,8,10],"labels":false,"tickSize":7}},"y":{"field":"y","type":"quantitative","title":null,"scale":{"domain":[0.485,0.909],"nice":false,"zero":false},"axis":{"values":[0.5,0.6,0.7,0.8,0.9],"labels":false}},"color":{"datum":"Data","scale":{"range":["black"]},"legend":{"orient":"bottom-right","title":null,"offset":6,"padding":0,"labelFontSize":13,"labelColor":"#333333","symbolType":"M-1.3,0L1.3,0M-0.35,0A0.35,0.35,0,1,1,0.35,0A0.35,0.35,0,1,1,-0.35,0","symbolSize":400,"symbolFillColor":"black","symbolStrokeColor":"black","symbolStrokeWidth":2,"labelOffset":9}}}},
{"data":{"name":"mod"},"transform":[{"filter":"datum.c=='S'&&datum.m=='R'&&datum.v=='acc'"}],"mark":{"type":"area","opacity":0.45,"clip":true},"encoding":{"x":{"field":"b","type":"quantitative","title":null,"scale":{"domain":[0.12,10.88],"nice":false,"zero":false},"axis":{"values":[2,4,6,8,10],"labels":false,"tickSize":7}},"y":{"field":"l","type":"quantitative","title":null,"scale":{"domain":[0.485,0.909],"nice":false,"zero":false},"axis":{"values":[0.5,0.6,0.7,0.8,0.9],"labels":false}},"y2":{"field":"h"},"detail":{"field":"q","type":"nominal"},"fill":{"datum":"Model","scale":{"range":["#3b3bff"]},"legend":{"orient":"bottom-right","title":null,"offset":6,"padding":0,"labelFontSize":13,"labelColor":"#333333","symbolType":"M-0.45,-0.45L0.45,-0.45L0.45,0.45L-0.45,0.45Z","symbolSize":400,"symbolStrokeColor":"#2a2a55","symbolStrokeWidth":1,"labelOffset":9}}}},
{"data":{"name":"obs"},"transform":[{"filter":"datum.c=='S'&&datum.v=='acc'"}],"mark":{"type":"line","color":"black","strokeWidth":2,"point":{"filled":true,"color":"black","size":50}},"encoding":{"x":{"field":"b","type":"quantitative","title":null},"y":{"field":"y","type":"quantitative","title":null},"detail":{"field":"q","type":"nominal"}}}]},
{"width":185,"height":140,"title":"Informed RL-tARD","layer":[
{"data":{"name":"obs"},"transform":[{"filter":"false"}],"mark":{"type":"line","strokeWidth":2},"encoding":{"x":{"field":"b","type":"quantitative","title":null,"scale":{"domain":[0.12,10.88],"nice":false,"zero":false},"axis":{"values":[2,4,6,8,10],"labels":false,"tickSize":7}},"y":{"field":"y","type":"quantitative","title":null,"scale":{"domain":[0.485,0.909],"nice":false,"zero":false},"axis":{"values":[0.5,0.6,0.7,0.8,0.9],"labels":false}},"color":{"datum":"Data","scale":{"range":["black"]},"legend":{"orient":"bottom-right","title":null,"offset":6,"padding":0,"labelFontSize":13,"labelColor":"#333333","symbolType":"M-1.3,0L1.3,0M-0.35,0A0.35,0.35,0,1,1,0.35,0A0.35,0.35,0,1,1,-0.35,0","symbolSize":400,"symbolFillColor":"black","symbolStrokeColor":"black","symbolStrokeWidth":2,"labelOffset":9}}}},
{"data":{"name":"mod"},"transform":[{"filter":"datum.c=='S'&&datum.m=='I'&&datum.v=='acc'"}],"mark":{"type":"area","opacity":0.45,"clip":true},"encoding":{"x":{"field":"b","type":"quantitative","title":null,"scale":{"domain":[0.12,10.88],"nice":false,"zero":false},"axis":{"values":[2,4,6,8,10],"labels":false,"tickSize":7}},"y":{"field":"l","type":"quantitative","title":null,"scale":{"domain":[0.485,0.909],"nice":false,"zero":false},"axis":{"values":[0.5,0.6,0.7,0.8,0.9],"labels":false}},"y2":{"field":"h"},"detail":{"field":"q","type":"nominal"},"fill":{"datum":"Model","scale":{"range":["#3b3bff"]},"legend":{"orient":"bottom-right","title":null,"offset":6,"padding":0,"labelFontSize":13,"labelColor":"#333333","symbolType":"M-0.45,-0.45L0.45,-0.45L0.45,0.45L-0.45,0.45Z","symbolSize":400,"symbolStrokeColor":"#2a2a55","symbolStrokeWidth":1,"labelOffset":9}}}},
{"data":{"name":"obs"},"transform":[{"filter":"datum.c=='S'&&datum.v=='acc'"}],"mark":{"type":"line","color":"black","strokeWidth":2,"point":{"filled":true,"color":"black","size":50}},"encoding":{"x":{"field":"b","type":"quantitative","title":null},"y":{"field":"y","type":"quantitative","title":null},"detail":{"field":"q","type":"nominal"}}}]}
]},
{"spacing":15,"bounds":"flush","hconcat":[
{"width":185,"height":184,"layer":[
{"data":{"name":"mod"},"transform":[{"filter":"datum.c=='S'&&datum.m=='A'&&datum.v=='crt'"}],"mark":{"type":"area","color":"#3b3bff","opacity":0.45,"clip":true},"encoding":{"x":{"field":"b","type":"quantitative","title":null,"scale":{"domain":[0.12,10.88],"nice":false,"zero":false},"axis":{"values":[2,4,6,8,10],"labels":false,"tickSize":7}},"y":{"field":"l","type":"quantitative","title":null,"scale":{"domain":[0.32,1.125],"nice":false,"zero":false},"axis":{"values":[0.4,0.5,0.6,0.7,0.8,0.9,1.0,1.1],"labelExpr":"round(datum.value*10)%2==0 ? format(datum.value,'.1f') : ''","tickOpacity":{"condition":{"test":"round(datum.value*10)%2==1","value":0},"value":1}}},"y2":{"field":"h"},"detail":{"field":"q","type":"nominal"}}},
{"data":{"name":"obs"},"transform":[{"filter":"datum.c=='S'&&datum.v=='crt'"}],"mark":{"type":"line","color":"black","strokeWidth":2,"point":{"filled":true,"color":"black","size":50}},"encoding":{"x":{"field":"b","type":"quantitative","title":null},"y":{"field":"y","type":"quantitative","title":null},"detail":{"field":"q","type":"nominal"}}}]},
{"width":185,"height":184,"layer":[
{"data":{"name":"mod"},"transform":[{"filter":"datum.c=='S'&&datum.m=='R'&&datum.v=='crt'"}],"mark":{"type":"area","color":"#3b3bff","opacity":0.45,"clip":true},"encoding":{"x":{"field":"b","type":"quantitative","title":null,"scale":{"domain":[0.12,10.88],"nice":false,"zero":false},"axis":{"values":[2,4,6,8,10],"labels":false,"tickSize":7}},"y":{"field":"l","type":"quantitative","title":null,"scale":{"domain":[0.32,1.125],"nice":false,"zero":false},"axis":{"values":[0.4,0.5,0.6,0.7,0.8,0.9,1.0,1.1],"labels":false,"tickOpacity":{"condition":{"test":"round(datum.value*10)%2==1","value":0},"value":1}}},"y2":{"field":"h"},"detail":{"field":"q","type":"nominal"}}},
{"data":{"name":"obs"},"transform":[{"filter":"datum.c=='S'&&datum.v=='crt'"}],"mark":{"type":"line","color":"black","strokeWidth":2,"point":{"filled":true,"color":"black","size":50}},"encoding":{"x":{"field":"b","type":"quantitative","title":null},"y":{"field":"y","type":"quantitative","title":null},"detail":{"field":"q","type":"nominal"}}}]},
{"width":185,"height":184,"layer":[
{"data":{"name":"mod"},"transform":[{"filter":"datum.c=='S'&&datum.m=='I'&&datum.v=='crt'"}],"mark":{"type":"area","color":"#3b3bff","opacity":0.45,"clip":true},"encoding":{"x":{"field":"b","type":"quantitative","title":null,"scale":{"domain":[0.12,10.88],"nice":false,"zero":false},"axis":{"values":[2,4,6,8,10],"labels":false,"tickSize":7}},"y":{"field":"l","type":"quantitative","title":null,"scale":{"domain":[0.32,1.125],"nice":false,"zero":false},"axis":{"values":[0.4,0.5,0.6,0.7,0.8,0.9,1.0,1.1],"labels":false,"tickOpacity":{"condition":{"test":"round(datum.value*10)%2==1","value":0},"value":1}}},"y2":{"field":"h"},"detail":{"field":"q","type":"nominal"}}},
{"data":{"name":"obs"},"transform":[{"filter":"datum.c=='S'&&datum.v=='crt'"}],"mark":{"type":"line","color":"black","strokeWidth":2,"point":{"filled":true,"color":"black","size":50}},"encoding":{"x":{"field":"b","type":"quantitative","title":null},"y":{"field":"y","type":"quantitative","title":null},"detail":{"field":"q","type":"nominal"}}}]}
]},
{"spacing":15,"bounds":"flush","hconcat":[
{"width":185,"height":184,"layer":[
{"data":{"name":"mod"},"transform":[{"filter":"datum.c=='S'&&datum.m=='A'&&datum.v=='ert'"}],"mark":{"type":"area","color":"#3b3bff","opacity":0.45,"clip":true},"encoding":{"x":{"field":"b","type":"quantitative","title":"Trial bin","scale":{"domain":[0.12,10.88],"nice":false,"zero":false},"axis":{"values":[2,4,6,8,10],"tickSize":7,"labelPadding":3,"titlePadding":4}},"y":{"field":"l","type":"quantitative","title":null,"scale":{"domain":[0.32,1.125],"nice":false,"zero":false},"axis":{"values":[0.4,0.5,0.6,0.7,0.8,0.9,1.0,1.1],"labelExpr":"round(datum.value*10)%2==0 ? format(datum.value,'.1f') : ''","tickOpacity":{"condition":{"test":"round(datum.value*10)%2==1","value":0},"value":1}}},"y2":{"field":"h"},"detail":{"field":"q","type":"nominal"}}},
{"data":{"name":"obs"},"transform":[{"filter":"datum.c=='S'&&datum.v=='ert'"}],"mark":{"type":"line","color":"black","strokeWidth":2,"point":{"filled":true,"color":"black","size":50}},"encoding":{"x":{"field":"b","type":"quantitative","title":"Trial bin"},"y":{"field":"y","type":"quantitative","title":null},"detail":{"field":"q","type":"nominal"}}}]},
{"width":185,"height":184,"layer":[
{"data":{"name":"mod"},"transform":[{"filter":"datum.c=='S'&&datum.m=='R'&&datum.v=='ert'"}],"mark":{"type":"area","color":"#3b3bff","opacity":0.45,"clip":true},"encoding":{"x":{"field":"b","type":"quantitative","title":"Trial bin","scale":{"domain":[0.12,10.88],"nice":false,"zero":false},"axis":{"values":[2,4,6,8,10],"tickSize":7,"labelPadding":3,"titlePadding":4}},"y":{"field":"l","type":"quantitative","title":null,"scale":{"domain":[0.32,1.125],"nice":false,"zero":false},"axis":{"values":[0.4,0.5,0.6,0.7,0.8,0.9,1.0,1.1],"labels":false,"tickOpacity":{"condition":{"test":"round(datum.value*10)%2==1","value":0},"value":1}}},"y2":{"field":"h"},"detail":{"field":"q","type":"nominal"}}},
{"data":{"name":"obs"},"transform":[{"filter":"datum.c=='S'&&datum.v=='ert'"}],"mark":{"type":"line","color":"black","strokeWidth":2,"point":{"filled":true,"color":"black","size":50}},"encoding":{"x":{"field":"b","type":"quantitative","title":"Trial bin"},"y":{"field":"y","type":"quantitative","title":null},"detail":{"field":"q","type":"nominal"}}}]},
{"width":185,"height":184,"layer":[
{"data":{"name":"mod"},"transform":[{"filter":"datum.c=='S'&&datum.m=='I'&&datum.v=='ert'"}],"mark":{"type":"area","color":"#3b3bff","opacity":0.45,"clip":true},"encoding":{"x":{"field":"b","type":"quantitative","title":"Trial bin","scale":{"domain":[0.12,10.88],"nice":false,"zero":false},"axis":{"values":[2,4,6,8,10],"tickSize":7,"labelPadding":3,"titlePadding":4}},"y":{"field":"l","type":"quantitative","title":null,"scale":{"domain":[0.32,1.125],"nice":false,"zero":false},"axis":{"values":[0.4,0.5,0.6,0.7,0.8,0.9,1.0,1.1],"labels":false,"tickOpacity":{"condition":{"test":"round(datum.value*10)%2==1","value":0},"value":1}}},"y2":{"field":"h"},"detail":{"field":"q","type":"nominal"}}},
{"data":{"name":"obs"},"transform":[{"filter":"datum.c=='S'&&datum.v=='ert'"}],"mark":{"type":"line","color":"black","strokeWidth":2,"point":{"filled":true,"color":"black","size":50}},"encoding":{"x":{"field":"b","type":"quantitative","title":"Trial bin"},"y":{"field":"y","type":"quantitative","title":null},"detail":{"field":"q","type":"nominal"}}}]}
]}
]},
{"title":{"text":"Accuracy","offset":5,"anchor":"middle","frame":"bounds","dx":42},"spacing":13,"vconcat":[
{"spacing":16,"bounds":"flush","hconcat":[
{"width":185,"height":140,"title":"RL-ARD","layer":[
{"data":{"name":"mod"},"transform":[{"filter":"datum.c=='A'&&datum.m=='A'&&datum.v=='acc'"}],"mark":{"type":"area","color":"#3b3bff","opacity":0.45,"clip":true},"encoding":{"x":{"field":"b","type":"quantitative","title":null,"scale":{"domain":[0.12,10.88],"nice":false,"zero":false},"axis":{"values":[2,4,6,8,10],"labels":false,"tickSize":7}},"y":{"field":"l","type":"quantitative","title":"Accuracy","scale":{"domain":[0.485,0.909],"nice":false,"zero":false},"axis":{"values":[0.5,0.6,0.7,0.8,0.9],"format":".1f","titlePadding":34}},"y2":{"field":"h"},"detail":{"field":"q","type":"nominal"}}},
{"data":{"name":"obs"},"transform":[{"filter":"datum.c=='A'&&datum.v=='acc'"}],"mark":{"type":"line","color":"black","strokeWidth":2,"point":{"filled":true,"color":"black","size":50}},"encoding":{"x":{"field":"b","type":"quantitative","title":null},"y":{"field":"y","type":"quantitative","title":"Accuracy"},"detail":{"field":"q","type":"nominal"}}}]},
{"width":185,"height":140,"title":"Random RL-tARD","layer":[
{"data":{"name":"mod"},"transform":[{"filter":"datum.c=='A'&&datum.m=='R'&&datum.v=='acc'"}],"mark":{"type":"area","color":"#3b3bff","opacity":0.45,"clip":true},"encoding":{"x":{"field":"b","type":"quantitative","title":null,"scale":{"domain":[0.12,10.88],"nice":false,"zero":false},"axis":{"values":[2,4,6,8,10],"labels":false,"tickSize":7}},"y":{"field":"l","type":"quantitative","title":null,"scale":{"domain":[0.485,0.909],"nice":false,"zero":false},"axis":{"values":[0.5,0.6,0.7,0.8,0.9],"labels":false}},"y2":{"field":"h"},"detail":{"field":"q","type":"nominal"}}},
{"data":{"name":"obs"},"transform":[{"filter":"datum.c=='A'&&datum.v=='acc'"}],"mark":{"type":"line","color":"black","strokeWidth":2,"point":{"filled":true,"color":"black","size":50}},"encoding":{"x":{"field":"b","type":"quantitative","title":null},"y":{"field":"y","type":"quantitative","title":null},"detail":{"field":"q","type":"nominal"}}}]},
{"width":185,"height":140,"title":"Informed RL-tARD","layer":[
{"data":{"name":"mod"},"transform":[{"filter":"datum.c=='A'&&datum.m=='I'&&datum.v=='acc'"}],"mark":{"type":"area","color":"#3b3bff","opacity":0.45,"clip":true},"encoding":{"x":{"field":"b","type":"quantitative","title":null,"scale":{"domain":[0.12,10.88],"nice":false,"zero":false},"axis":{"values":[2,4,6,8,10],"labels":false,"tickSize":7}},"y":{"field":"l","type":"quantitative","title":null,"scale":{"domain":[0.485,0.909],"nice":false,"zero":false},"axis":{"values":[0.5,0.6,0.7,0.8,0.9],"labels":false}},"y2":{"field":"h"},"detail":{"field":"q","type":"nominal"}}},
{"data":{"name":"obs"},"transform":[{"filter":"datum.c=='A'&&datum.v=='acc'"}],"mark":{"type":"line","color":"black","strokeWidth":2,"point":{"filled":true,"color":"black","size":50}},"encoding":{"x":{"field":"b","type":"quantitative","title":null},"y":{"field":"y","type":"quantitative","title":null},"detail":{"field":"q","type":"nominal"}}}]}
]},
{"spacing":16,"bounds":"flush","hconcat":[
{"width":185,"height":184,"layer":[
{"data":{"name":"mod"},"transform":[{"filter":"datum.c=='A'&&datum.m=='A'&&datum.v=='crt'"}],"mark":{"type":"area","color":"#3b3bff","opacity":0.45,"clip":true},"encoding":{"x":{"field":"b","type":"quantitative","title":null,"scale":{"domain":[0.12,10.88],"nice":false,"zero":false},"axis":{"values":[2,4,6,8,10],"labels":false,"tickSize":7}},"y":{"field":"l","type":"quantitative","title":"Correct RTs (s)","scale":{"domain":[0.32,1.125],"nice":false,"zero":false},"axis":{"values":[0.4,0.5,0.6,0.7,0.8,0.9,1.0,1.1],"titlePadding":34,"labelExpr":"round(datum.value*10)%2==0 ? format(datum.value,'.1f') : ''","tickOpacity":{"condition":{"test":"round(datum.value*10)%2==1","value":0},"value":1}}},"y2":{"field":"h"},"detail":{"field":"q","type":"nominal"}}},
{"data":{"name":"obs"},"transform":[{"filter":"datum.c=='A'&&datum.v=='crt'"}],"mark":{"type":"line","color":"black","strokeWidth":2,"point":{"filled":true,"color":"black","size":50}},"encoding":{"x":{"field":"b","type":"quantitative","title":null},"y":{"field":"y","type":"quantitative","title":"Correct RTs (s)"},"detail":{"field":"q","type":"nominal"}}}]},
{"width":185,"height":184,"layer":[
{"data":{"name":"mod"},"transform":[{"filter":"datum.c=='A'&&datum.m=='R'&&datum.v=='crt'"}],"mark":{"type":"area","color":"#3b3bff","opacity":0.45,"clip":true},"encoding":{"x":{"field":"b","type":"quantitative","title":null,"scale":{"domain":[0.12,10.88],"nice":false,"zero":false},"axis":{"values":[2,4,6,8,10],"labels":false,"tickSize":7}},"y":{"field":"l","type":"quantitative","title":null,"scale":{"domain":[0.32,1.125],"nice":false,"zero":false},"axis":{"values":[0.4,0.5,0.6,0.7,0.8,0.9,1.0,1.1],"labels":false,"tickOpacity":{"condition":{"test":"round(datum.value*10)%2==1","value":0},"value":1}}},"y2":{"field":"h"},"detail":{"field":"q","type":"nominal"}}},
{"data":{"name":"obs"},"transform":[{"filter":"datum.c=='A'&&datum.v=='crt'"}],"mark":{"type":"line","color":"black","strokeWidth":2,"point":{"filled":true,"color":"black","size":50}},"encoding":{"x":{"field":"b","type":"quantitative","title":null},"y":{"field":"y","type":"quantitative","title":null},"detail":{"field":"q","type":"nominal"}}}]},
{"width":185,"height":184,"layer":[
{"data":{"name":"mod"},"transform":[{"filter":"datum.c=='A'&&datum.m=='I'&&datum.v=='crt'"}],"mark":{"type":"area","color":"#3b3bff","opacity":0.45,"clip":true},"encoding":{"x":{"field":"b","type":"quantitative","title":null,"scale":{"domain":[0.12,10.88],"nice":false,"zero":false},"axis":{"values":[2,4,6,8,10],"labels":false,"tickSize":7}},"y":{"field":"l","type":"quantitative","title":null,"scale":{"domain":[0.32,1.125],"nice":false,"zero":false},"axis":{"values":[0.4,0.5,0.6,0.7,0.8,0.9,1.0,1.1],"labels":false,"tickOpacity":{"condition":{"test":"round(datum.value*10)%2==1","value":0},"value":1}}},"y2":{"field":"h"},"detail":{"field":"q","type":"nominal"}}},
{"data":{"name":"obs"},"transform":[{"filter":"datum.c=='A'&&datum.v=='crt'"}],"mark":{"type":"line","color":"black","strokeWidth":2,"point":{"filled":true,"color":"black","size":50}},"encoding":{"x":{"field":"b","type":"quantitative","title":null},"y":{"field":"y","type":"quantitative","title":null},"detail":{"field":"q","type":"nominal"}}}]}
]},
{"spacing":16,"bounds":"flush","hconcat":[
{"width":185,"height":184,"layer":[
{"data":{"name":"mod"},"transform":[{"filter":"datum.c=='A'&&datum.m=='A'&&datum.v=='ert'"}],"mark":{"type":"area","color":"#3b3bff","opacity":0.45,"clip":true},"encoding":{"x":{"field":"b","type":"quantitative","title":"Trial bin","scale":{"domain":[0.12,10.88],"nice":false,"zero":false},"axis":{"values":[2,4,6,8,10],"tickSize":7,"labelPadding":3,"titlePadding":4}},"y":{"field":"l","type":"quantitative","title":"Error RTs (s)","scale":{"domain":[0.32,1.125],"nice":false,"zero":false},"axis":{"values":[0.4,0.5,0.6,0.7,0.8,0.9,1.0,1.1],"titlePadding":34,"labelExpr":"round(datum.value*10)%2==0 ? format(datum.value,'.1f') : ''","tickOpacity":{"condition":{"test":"round(datum.value*10)%2==1","value":0},"value":1}}},"y2":{"field":"h"},"detail":{"field":"q","type":"nominal"}}},
{"data":{"name":"obs"},"transform":[{"filter":"datum.c=='A'&&datum.v=='ert'"}],"mark":{"type":"line","color":"black","strokeWidth":2,"point":{"filled":true,"color":"black","size":50}},"encoding":{"x":{"field":"b","type":"quantitative","title":"Trial bin"},"y":{"field":"y","type":"quantitative","title":"Error RTs (s)"},"detail":{"field":"q","type":"nominal"}}}]},
{"width":185,"height":184,"layer":[
{"data":{"name":"mod"},"transform":[{"filter":"datum.c=='A'&&datum.m=='R'&&datum.v=='ert'"}],"mark":{"type":"area","color":"#3b3bff","opacity":0.45,"clip":true},"encoding":{"x":{"field":"b","type":"quantitative","title":"Trial bin","scale":{"domain":[0.12,10.88],"nice":false,"zero":false},"axis":{"values":[2,4,6,8,10],"tickSize":7,"labelPadding":3,"titlePadding":4}},"y":{"field":"l","type":"quantitative","title":null,"scale":{"domain":[0.32,1.125],"nice":false,"zero":false},"axis":{"values":[0.4,0.5,0.6,0.7,0.8,0.9,1.0,1.1],"labels":false,"tickOpacity":{"condition":{"test":"round(datum.value*10)%2==1","value":0},"value":1}}},"y2":{"field":"h"},"detail":{"field":"q","type":"nominal"}}},
{"data":{"name":"obs"},"transform":[{"filter":"datum.c=='A'&&datum.v=='ert'"}],"mark":{"type":"line","color":"black","strokeWidth":2,"point":{"filled":true,"color":"black","size":50}},"encoding":{"x":{"field":"b","type":"quantitative","title":"Trial bin"},"y":{"field":"y","type":"quantitative","title":null},"detail":{"field":"q","type":"nominal"}}}]},
{"width":185,"height":184,"layer":[
{"data":{"name":"mod"},"transform":[{"filter":"datum.c=='A'&&datum.m=='I'&&datum.v=='ert'"}],"mark":{"type":"area","color":"#3b3bff","opacity":0.45,"clip":true},"encoding":{"x":{"field":"b","type":"quantitative","title":"Trial bin","scale":{"domain":[0.12,10.88],"nice":false,"zero":false},"axis":{"values":[2,4,6,8,10],"tickSize":7,"labelPadding":3,"titlePadding":4}},"y":{"field":"l","type":"quantitative","title":null,"scale":{"domain":[0.32,1.125],"nice":false,"zero":false},"axis":{"values":[0.4,0.5,0.6,0.7,0.8,0.9,1.0,1.1],"labels":false,"tickOpacity":{"condition":{"test":"round(datum.value*10)%2==1","value":0},"value":1}}},"y2":{"field":"h"},"detail":{"field":"q","type":"nominal"}}},
{"data":{"name":"obs"},"transform":[{"filter":"datum.c=='A'&&datum.v=='ert'"}],"mark":{"type":"line","color":"black","strokeWidth":2,"point":{"filled":true,"color":"black","size":50}},"encoding":{"x":{"field":"b","type":"quantitative","title":"Trial bin"},"y":{"field":"y","type":"quantitative","title":null},"detail":{"field":"q","type":"nominal"}}}]}
]}
]}
]
}
